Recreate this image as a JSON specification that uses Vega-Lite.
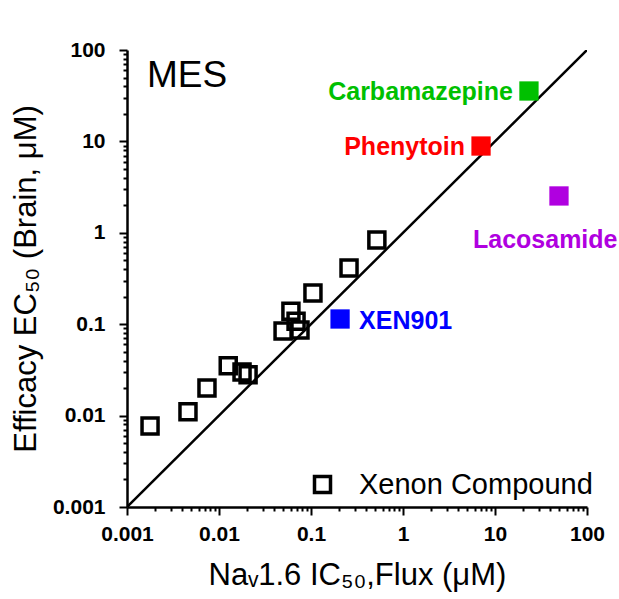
{
  "$schema": "https://vega.github.io/schema/vega-lite/v6.json",
  "width": 460,
  "height": 457,
  "autosize": {"type": "none"},
  "padding": {"left": 127, "top": 50, "right": 32, "bottom": 92},
  "background": "white",
  "config": {
    "view": {"stroke": null},
    "font": "Liberation Sans",
    "axis": {
      "domainColor": "black",
      "domainWidth": 2.5,
      "tickColor": "black",
      "tickWidth": 2,
      "grid": false,
      "labelFont": "Liberation Sans",
      "labelFontWeight": "bold",
      "labelFontSize": 21,
      "labelColor": "black",
      "labelOverlap": false,
      "labelFlush": false,
      "titleFont": "Liberation Sans",
      "titleFontWeight": "normal",
      "titleFontSize": 31,
      "titleColor": "black"
    }
  },
  "title": {
    "text": "MES",
    "orient": "top",
    "anchor": "start",
    "frame": "group",
    "fontSize": 37,
    "fontWeight": "normal",
    "font": "Liberation Sans",
    "color": "black",
    "baseline": "top",
    "offset": 0,
    "dx": 20,
    "dy": 56
  },
  "datasets": {
    "xenon": [
      {"ic50": 0.00178, "ec50": 0.0077},
      {"ic50": 0.0046, "ec50": 0.011},
      {"ic50": 0.0074, "ec50": 0.020},
      {"ic50": 0.0126, "ec50": 0.035},
      {"ic50": 0.0178, "ec50": 0.030},
      {"ic50": 0.0207, "ec50": 0.028},
      {"ic50": 0.0497, "ec50": 0.084},
      {"ic50": 0.0605, "ec50": 0.139},
      {"ic50": 0.0688, "ec50": 0.108},
      {"ic50": 0.0759, "ec50": 0.0865},
      {"ic50": 0.105, "ec50": 0.219},
      {"ic50": 0.259, "ec50": 0.412},
      {"ic50": 0.52, "ec50": 0.834}
    ],
    "named": [
      {"name": "Carbamazepine", "ic50": 23.4, "ec50": 35.6},
      {"name": "Phenytoin", "ic50": 7.05, "ec50": 8.9},
      {"name": "Lacosamide", "ic50": 49.6, "ec50": 2.53},
      {"name": "XEN901", "ic50": 0.207, "ec50": 0.114}
    ],
    "unity": [
      {"ic50": 0.001, "ec50": 0.001},
      {"ic50": 100, "ec50": 100}
    ]
  },
  "layer": [
    {
      "data": {"name": "unity"},
      "mark": {"type": "line", "color": "black", "strokeWidth": 2.5, "clip": true},
      "encoding": {
        "x": {
          "field": "ic50",
          "type": "quantitative",
          "scale": {"type": "log", "domain": [0.001, 100], "nice": false},
          "axis": {
            "title": "Naᵥ1.6 IC₅₀,Flux (μM)",
            "titlePadding": 16,
            "labelPadding": 8,
            "values": [0.001,0.002,0.003,0.004,0.005,0.006,0.007,0.008,0.009,0.01,0.02,0.03,0.04,0.05,0.06,0.07,0.08,0.09,0.1,0.2,0.3,0.4,0.5,0.6,0.7,0.8,0.9,1,2,3,4,5,6,7,8,9,10,20,30,40,50,60,70,80,90,100],
            "labelExpr": "abs(log(datum.value)/LN10 - round(log(datum.value)/LN10)) < 1e-6 ? toString(datum.value) : ''",
            "tickSize": {"condition": {"test": "abs(log(datum.value)/LN10 - round(log(datum.value)/LN10)) < 1e-6", "value": 8}, "value": 4}
          }
        },
        "y": {
          "field": "ec50",
          "type": "quantitative",
          "scale": {"type": "log", "domain": [0.001, 100], "nice": false},
          "axis": {
            "title": "Efficacy EC₅₀ (Brain, μM)",
            "titlePadding": 10,
            "labelPadding": 14,
            "values": [0.001,0.002,0.003,0.004,0.005,0.006,0.007,0.008,0.009,0.01,0.02,0.03,0.04,0.05,0.06,0.07,0.08,0.09,0.1,0.2,0.3,0.4,0.5,0.6,0.7,0.8,0.9,1,2,3,4,5,6,7,8,9,10,20,30,40,50,60,70,80,90,100],
            "labelExpr": "abs(log(datum.value)/LN10 - round(log(datum.value)/LN10)) < 1e-6 ? toString(datum.value) : ''",
            "tickSize": {"condition": {"test": "abs(log(datum.value)/LN10 - round(log(datum.value)/LN10)) < 1e-6", "value": 8}, "value": 4}
          }
        }
      }
    },
    {
      "data": {"name": "xenon"},
      "mark": {"type": "point", "shape": "square", "filled": false, "size": 256, "strokeWidth": 3.5, "opacity": 1},
      "encoding": {
        "x": {"field": "ic50", "type": "quantitative"},
        "y": {"field": "ec50", "type": "quantitative"},
        "color": {
          "datum": "Xenon Compound",
          "scale": {"domain": ["Xenon Compound"], "range": ["black"]},
          "legend": {
            "orient": "none",
            "legendX": 181,
            "legendY": 420,
            "title": null,
            "padding": 0,
            "symbolType": "square",
            "symbolSize": 256,
            "symbolStrokeWidth": 3.5,
            "symbolStrokeColor": "black",
            "symbolFillColor": "transparent",
            "labelFont": "Liberation Sans",
            "labelFontSize": 29,
            "labelColor": "black",
            "labelOffset": 22,
            "labelLimit": 400
          }
        }
      }
    },
    {
      "data": {"name": "named"},
      "transform": [{"filter": "datum.name === 'Carbamazepine'"}],
      "mark": {"type": "square", "size": 372, "opacity": 1, "color": "#00c000"},
      "encoding": {
        "x": {"field": "ic50", "type": "quantitative"},
        "y": {"field": "ec50", "type": "quantitative"}
      }
    },
    {
      "data": {"name": "named"},
      "transform": [{"filter": "datum.name === 'Phenytoin'"}],
      "mark": {"type": "square", "size": 372, "opacity": 1, "color": "#ff0000"},
      "encoding": {
        "x": {"field": "ic50", "type": "quantitative"},
        "y": {"field": "ec50", "type": "quantitative"}
      }
    },
    {
      "data": {"name": "named"},
      "transform": [{"filter": "datum.name === 'Lacosamide'"}],
      "mark": {"type": "square", "size": 372, "opacity": 1, "color": "#b000e0"},
      "encoding": {
        "x": {"field": "ic50", "type": "quantitative"},
        "y": {"field": "ec50", "type": "quantitative"}
      }
    },
    {
      "data": {"name": "named"},
      "transform": [{"filter": "datum.name === 'XEN901'"}],
      "mark": {"type": "square", "size": 372, "opacity": 1, "color": "#0000ff"},
      "encoding": {
        "x": {"field": "ic50", "type": "quantitative"},
        "y": {"field": "ec50", "type": "quantitative"}
      }
    },
    {
      "data": {"name": "named"},
      "transform": [{"filter": "datum.name === 'Carbamazepine'"}],
      "mark": {"type": "text", "align": "right", "baseline": "middle", "dx": -16, "dy": 1, "fontSize": 25, "fontWeight": "bold", "font": "Liberation Sans", "color": "#00c000"},
      "encoding": {
        "x": {"field": "ic50", "type": "quantitative"},
        "y": {"field": "ec50", "type": "quantitative"},
        "text": {"field": "name"}
      }
    },
    {
      "data": {"name": "named"},
      "transform": [{"filter": "datum.name === 'Phenytoin'"}],
      "mark": {"type": "text", "align": "right", "baseline": "middle", "dx": -16, "dy": 1, "fontSize": 25, "fontWeight": "bold", "font": "Liberation Sans", "color": "#ff0000"},
      "encoding": {
        "x": {"field": "ic50", "type": "quantitative"},
        "y": {"field": "ec50", "type": "quantitative"},
        "text": {"field": "name"}
      }
    },
    {
      "data": {"name": "named"},
      "transform": [{"filter": "datum.name === 'XEN901'"}],
      "mark": {"type": "text", "align": "left", "baseline": "middle", "dx": 19, "dy": 2, "fontSize": 25, "fontWeight": "bold", "font": "Liberation Sans", "color": "#0000ff"},
      "encoding": {
        "x": {"field": "ic50", "type": "quantitative"},
        "y": {"field": "ec50", "type": "quantitative"},
        "text": {"field": "name"}
      }
    },
    {
      "data": {"name": "named"},
      "transform": [{"filter": "datum.name === 'Lacosamide'"}],
      "mark": {"type": "text", "align": "left", "baseline": "middle", "dx": -86, "dy": 44, "fontSize": 25, "fontWeight": "bold", "font": "Liberation Sans", "color": "#b000e0"},
      "encoding": {
        "x": {"field": "ic50", "type": "quantitative"},
        "y": {"field": "ec50", "type": "quantitative"},
        "text": {"field": "name"}
      }
    }
  ]
}
